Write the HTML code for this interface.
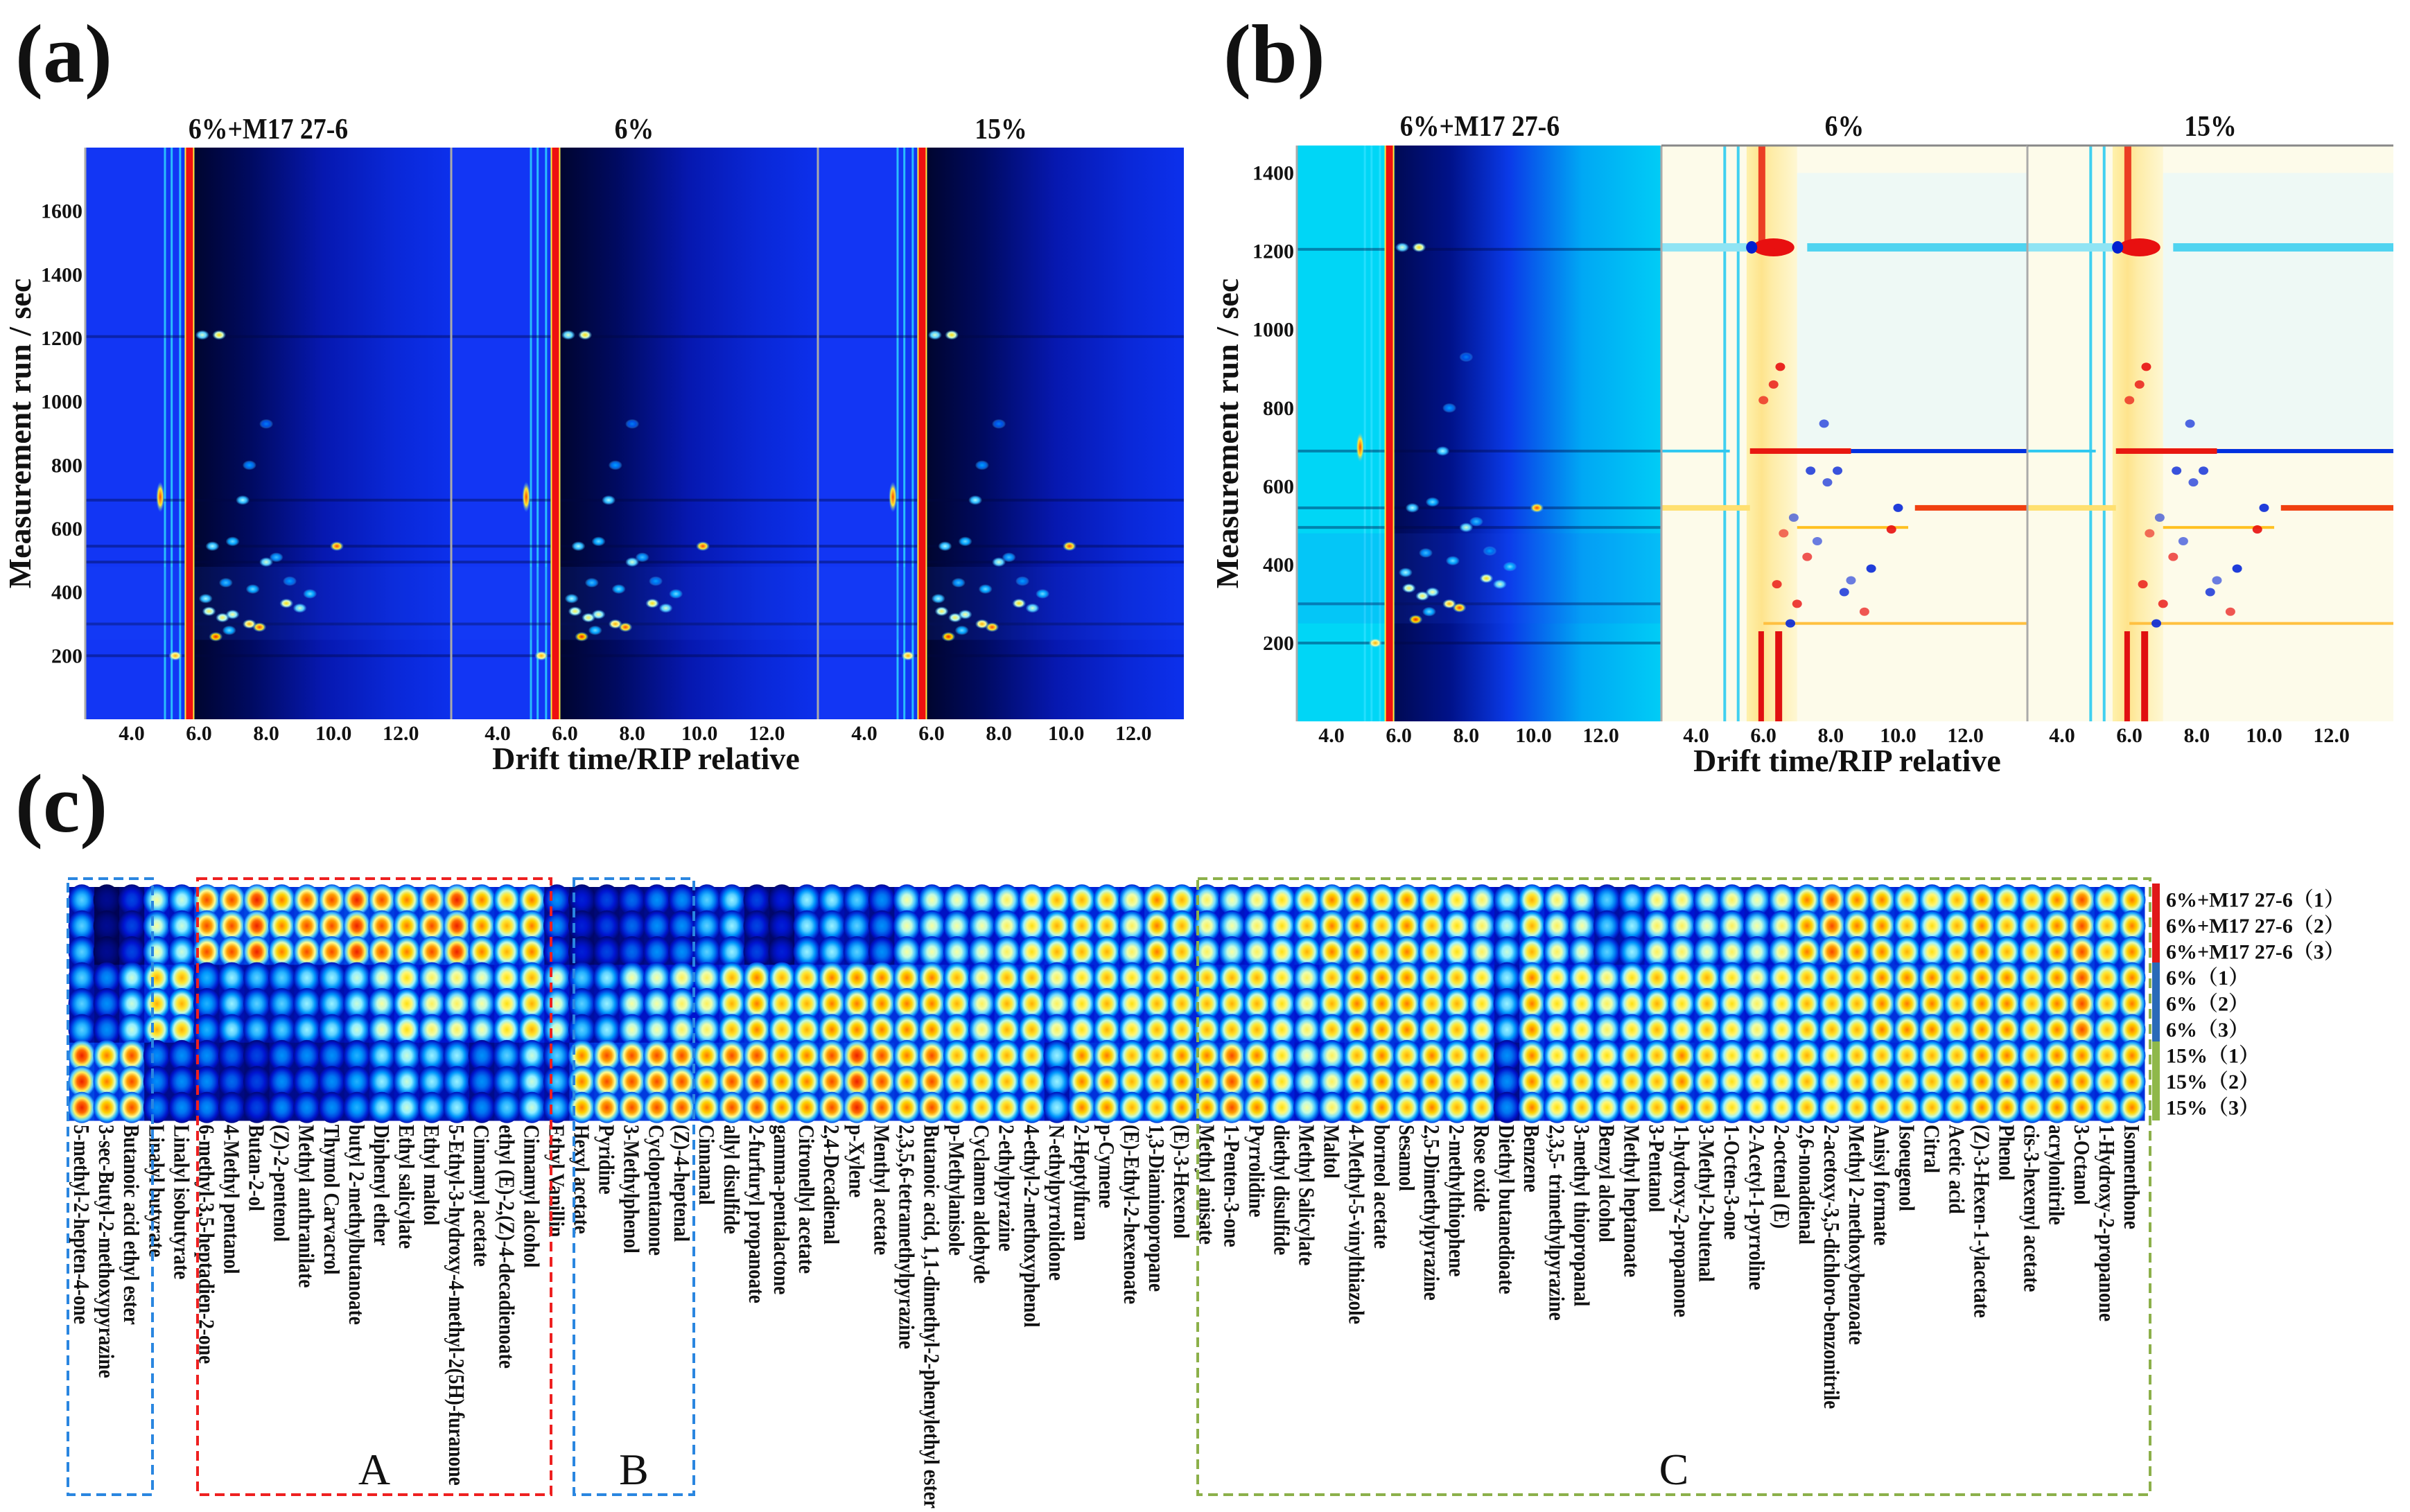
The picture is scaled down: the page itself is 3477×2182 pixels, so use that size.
<!DOCTYPE html>
<html><head><meta charset="utf-8"><title>GC-IMS figure</title>
<style>html,body{margin:0;padding:0;background:#fff;}svg{display:block;}
text{font-family:"Liberation Serif","Noto Serif CJK SC",serif;font-weight:bold;fill:#111;}</style></head>
<body>
<svg id="fig" xmlns="http://www.w3.org/2000/svg" width="3477" height="2182" viewBox="0 0 3477 2182">
<defs id="defs"></defs>
<rect x="0" y="0" width="3477" height="2182" fill="#fff"/>
<g id="pa"></g>
<g id="pb"></g>
<g id="pc"></g>
</svg>
<script>
// ---------- data ----------
const subTitles = ["6%+M17 27-6", "6%", "15%"];
const xTickVals = [4, 6, 8, 10, 12];
const yTicksA = [200, 400, 600, 800, 1000, 1200, 1400, 1600];
const yTicksB = [200, 400, 600, 800, 1000, 1200, 1400];
const peakDrift = [6.1, 6.6, 4.85, 10.1, 8.0, 7.3, 7.5, 7.8, 6.5, 9.0, 8.6, 7.0, 9.3, 5.3, 6.9, 6.3, 6.7, 7.0, 6.4, 6.8, 8.7, 7.5, 8.0, 7.6, 8.3, 6.2];
const peakRT    = [1210, 1210, 700, 545, 495, 690, 300, 290, 260, 350, 365, 330, 395, 200, 280, 340, 320, 560, 545, 430, 435, 800, 930, 410, 510, 380];
const peakVal   = [0.6, 0.75, 0.9, 0.92, 0.6, 0.55, 0.8, 0.92, 0.95, 0.6, 0.75, 0.65, 0.5, 0.8, 0.5, 0.7, 0.7, 0.5, 0.55, 0.45, 0.4, 0.4, 0.35, 0.5, 0.45, 0.55];
const bandRT = [690, 545, 495, 300, 200, 1205];
const diffDrift = [6.2, 6.5, 6.3, 6.0, 6.4, 10.0, 9.8, 8.2, 7.8, 9.2, 8.4, 7.0, 7.4, 7.9, 6.8, 7.3, 8.6, 6.6, 7.6, 9.0, 6.9];
const diffRT    = [1210, 905, 860, 820, 350, 545, 490, 640, 760, 390, 330, 300, 640, 610, 250, 420, 360, 480, 460, 280, 520];
const diffVal   = [1, 0.9, 0.8, 0.7, 0.8, -0.9, 0.9, -0.8, -0.7, -0.9, -0.8, 0.8, -0.8, -0.7, -0.9, 0.7, -0.6, 0.6, -0.6, 0.7, -0.6];

const compounds = ["5-methyl-2-hepten-4-one","3-sec-Butyl-2-methoxypyrazine","Butanoic acid ethyl ester","Linalyl butyrate","Linalyl isobutyrate","6-methyl-3,5-heptadien-2-one","4-Methyl pentanol","Butan-2-ol","(Z)-2-pentenol","Methyl anthranilate","Thymol Carvacrol","butyl 2-methylbutanoate","Diphenyl ether","Ethyl salicylate","Ethyl maltol","5-Ethyl-3-hydroxy-4-methyl-2(5H)-furanone","Cinnamyl acetate","ethyl (E)-2,(Z)-4-decadienoate","Cinnamyl alcohol","Ethyl Vanillin","Hexyl acetate","Pyridine","3-Methylphenol","Cyclopentanone","(Z)-4-heptenal","Cinnamal","allyl disulfide","2-furfuryl propanoate","gamma-pentalactone","Citronellyl acetate","2,4-Decadienal","p-Xylene","Menthyl acetate","2,3,5,6-tetramethylpyrazine","Butanoic acid, 1,1-dimethyl-2-phenylethyl ester","p-Methylanisole","Cyclamen aldehyde","2-ethylpyrazine","4-ethyl-2-methoxyphenol","N-ethylpyrrolidone","2-Heptylfuran","p-Cymene","(E)-Ethyl-2-hexenoate","1,3-Diaminopropane","(E)-3-Hexenol","Methyl anisate","1-Penten-3-one","Pyrrolidine","diethyl disulfide","Methyl Salicylate","Maltol","4-Methyl-5-vinylthiazole","borneol acetate","Sesamol","2,5-Dimethylpyrazine","2-methylthiophene","Rose oxide","Diethyl butanedioate","Benzene","2,3,5- trimethylpyrazine","3-methyl thiopropanal","Benzyl alcohol","Methyl heptanoate","3-Pentanol","1-hydroxy-2-propanone","3-Methyl-2-butenal","1-Octen-3-one","2-Acetyl-1-pyrroline","2-octenal (E)","2,6-nonadienal","2-acetoxy-3,5-dichloro-benzonitrile","Methyl 2-methoxybenzoate","Anisyl formate","Isoeugenol","Citral","Acetic acid","(Z)-3-Hexen-1-ylacetate","Phenol","cis-3-hexenyl acetate","acrylonitrile","3-Octanol","1-Hydroxy-2-propanone","Isomenthone"];
const sampleNames = ["6%+M17 27-6（1）","6%+M17 27-6（2）","6%+M17 27-6（3）","6%（1）","6%（2）","6%（3）","15%（1）","15%（2）","15%（3）"];
const groupM17 = [0.4,0.05,0.2,0.55,0.5,0.8,0.8,0.85,0.75,0.8,0.8,0.85,0.8,0.75,0.8,0.85,0.75,0.7,0.75,0.3,0.15,0.2,0.25,0.3,0.3,0.4,0.45,0.2,0.15,0.45,0.45,0.4,0.3,0.55,0.55,0.55,0.55,0.6,0.65,0.7,0.7,0.7,0.6,0.75,0.7,0.6,0.55,0.6,0.65,0.7,0.75,0.75,0.7,0.75,0.7,0.65,0.6,0.5,0.7,0.6,0.55,0.4,0.45,0.6,0.6,0.55,0.6,0.55,0.6,0.75,0.8,0.75,0.75,0.7,0.65,0.7,0.75,0.7,0.7,0.75,0.8,0.7,0.75];
const group6 =   [0.4,0.3,0.5,0.72,0.7,0.35,0.45,0.4,0.4,0.45,0.45,0.5,0.55,0.65,0.6,0.6,0.55,0.65,0.7,0.55,0.4,0.45,0.55,0.55,0.6,0.6,0.7,0.75,0.7,0.7,0.75,0.75,0.75,0.75,0.75,0.7,0.6,0.7,0.7,0.6,0.65,0.7,0.65,0.7,0.7,0.7,0.7,0.7,0.65,0.6,0.7,0.75,0.75,0.75,0.7,0.7,0.65,0.45,0.75,0.65,0.65,0.6,0.65,0.7,0.65,0.7,0.65,0.6,0.65,0.7,0.7,0.7,0.75,0.75,0.75,0.7,0.75,0.75,0.7,0.75,0.8,0.7,0.75];
const group15 =  [0.85,0.75,0.8,0.3,0.3,0.3,0.25,0.2,0.3,0.3,0.3,0.35,0.45,0.5,0.45,0.45,0.3,0.4,0.5,0.4,0.75,0.8,0.8,0.8,0.8,0.75,0.8,0.8,0.75,0.75,0.8,0.85,0.8,0.75,0.8,0.7,0.7,0.7,0.7,0.45,0.75,0.75,0.7,0.7,0.75,0.75,0.8,0.75,0.65,0.55,0.6,0.7,0.75,0.7,0.75,0.7,0.7,0.3,0.75,0.65,0.7,0.65,0.7,0.7,0.75,0.7,0.65,0.65,0.65,0.7,0.65,0.7,0.7,0.7,0.7,0.7,0.75,0.75,0.7,0.75,0.75,0.7,0.75];

// ---------- helpers ----------
const NS = "http://www.w3.org/2000/svg";
function mk(tag, attrs, parent) { const e = document.createElementNS(NS, tag); for (const k in attrs) e.setAttribute(k, attrs[k]); parent.appendChild(e); return e; }
const defs = document.getElementById("defs");
const stopsC = [[0,[0,0,60]],[0.2,[0,20,210]],[0.4,[0,160,255]],[0.55,[170,250,255]],[0.65,[255,255,150]],[0.76,[255,220,0]],[0.88,[255,90,0]],[1,[225,0,0]]];
function cmap(v) { v = Math.max(0, Math.min(1, v)); for (let i = 1; i < stopsC.length; i++) { if (v <= stopsC[i][0]) { const a = stopsC[i-1], b = stopsC[i]; const t = (v - a[0]) / (b[0] - a[0]); const c = a[1].map((x, j) => Math.round(x + (b[1][j] - x) * t)); return `rgb(${c[0]},${c[1]},${c[2]})`; } } return "rgb(225,0,0)"; }
const boost = v => Math.min(1, 0.06 + v * 1.06);
for (let l = 0; l <= 20; l++) { const v = boost(l / 20); const g = mk("radialGradient", {id: "blob" + l}, defs);
  [[0, 1], [0.35, 0.9], [0.6, 0.72], [0.82, 0.5], [1, 0.3]].forEach(s => mk("stop", {offset: s[0], "stop-color": cmap(v * s[1])}, g)); }
for (let l = 0; l <= 20; l++) { const v = l / 20; const g = mk("radialGradient", {id: "spot" + l}, defs);
  mk("stop", {offset: 0, "stop-color": cmap(v)}, g); mk("stop", {offset: 0.55, "stop-color": cmap(v * 0.8)}, g); mk("stop", {offset: 1, "stop-color": cmap(0.45), "stop-opacity": 0}, g); }
function lin(id, stops) { const g = mk("linearGradient", {id: id, x1: 0, y1: 0, x2: 1, y2: 0}, defs); stops.forEach(s => mk("stop", {offset: s[0], "stop-color": s[1]}, g)); }
lin("bgA", [[0, "#1236f4"], [0.285, "#1236f4"], [0.3, "#000530"], [0.45, "#000a60"], [0.65, "#0618b0"], [0.85, "#0a28d8"], [1, "#0c30ec"]]);
lin("bgB", [[0, "#00d6f6"], [0.25, "#00d6f6"], [0.27, "#000a55"], [0.42, "#00128a"], [0.58, "#0a3ae8"], [0.78, "#00a8f4"], [1, "#00cdf6"]]);
lin("ybandB", [[0, "#ffe97a"], [0.3, "#ffd040"], [0.5, "#ffe070"], [1, "#fff4c0"]]);

// ---------- panel builder ----------
function buildPanel(gid, cfg) {
  const G = document.getElementById(gid);
  const lab = mk("text", {x: cfg.labX, y: cfg.labY, "font-size": 120}, G); lab.textContent = cfg.label;
  
  
  for (let k = 0; k < 3; k++) {
    const x0 = cfg.x0[k], w = cfg.w, top = cfg.top, bot = cfg.bot;
    const px = d => x0 + (d - cfg.dmin) / (cfg.dmax - cfg.dmin) * w;
    const py = t => bot - t / cfg.tmax * (bot - top);
    const sg = mk("g", {}, G);
    
    
    const clip = mk("clipPath", {id: gid + "clip" + k}, defs);
    mk("rect", {x: x0, y: top, width: w, height: bot - top}, clip);
    const inner = mk("g", {"clip-path": `url(#${gid}clip${k})`}, sg);
    const diff = cfg.diff && k > 0;
    mk("rect", {x: x0, y: top, width: w, height: bot - top, fill: diff ? "#fdfbea" : (cfg.diff ? "url(#bgB)" : "url(#bgA)")}, inner);
    if (diff) {
      mk("rect", {x: px(5.5), y: top, width: px(7.0) - px(5.5), height: bot - top, fill: "url(#ybandB)", opacity: 0.55}, inner);
      mk("rect", {x: px(7.0), y: py(1400), width: w, height: py(700) - py(1400), fill: "#e4f8fc", opacity: 0.6}, inner);
      [4.85, 5.25].forEach(d => mk("rect", {x: px(d) - 2, y: top, width: 4, height: bot - top, fill: "#40d0f0"}, inner));
      mk("rect", {x: px(5.85), y: py(230), width: 8, height: bot - py(230), fill: "#e01010"}, inner);
      mk("rect", {x: px(6.35), y: py(230), width: 10, height: bot - py(230), fill: "#e01010"}, inner);
      mk("rect", {x: px(5.85), y: py(1470), width: 10, height: py(1210) - py(1470), fill: "#e82010", opacity: 0.85}, inner);
      mk("rect", {x: px(2.5), y: py(1210) - 6, width: px(5.5) - px(2.5), height: 12, fill: "#90e4f4"}, inner);
      mk("rect", {x: px(7.3), y: py(1210) - 6, width: w, height: 12, fill: "#50d4f0"}, inner);
      mk("ellipse", {cx: px(6.3), cy: py(1210), rx: 30, ry: 13, fill: "#e81010"}, inner);
      mk("ellipse", {cx: px(5.65), cy: py(1210), rx: 8, ry: 9, fill: "#0020d0"}, inner);
      mk("rect", {x: px(8.6), y: py(690) - 3, width: w, height: 6, fill: "#0030e0"}, inner);
      mk("rect", {x: px(2.5), y: py(690) - 2, width: px(5.0) - px(2.5), height: 4, fill: "#30c8f0"}, inner);
      mk("rect", {x: px(5.6), y: py(690) - 4, width: px(8.6) - px(5.6), height: 8, fill: "#e81810"}, inner);
      mk("rect", {x: px(10.5), y: py(545) - 4, width: w, height: 8, fill: "#f04010"}, inner);
      mk("rect", {x: px(2.5), y: py(545) - 4, width: px(5.6) - px(2.5), height: 8, fill: "#ffe070"}, inner);
      mk("rect", {x: px(7.0), y: py(495) - 2, width: px(10.3) - px(7.0), height: 4, fill: "#ffc020"}, inner);
      mk("rect", {x: px(6.0), y: py(250) - 2, width: w, height: 4, fill: "#ffc040"}, inner);
      for (let i = 0; i < diffDrift.length; i++) {
        const v = diffVal[i];
        const e = mk("ellipse", {cx: px(diffDrift[i]), cy: py(diffRT[i]), rx: 7, ry: 6, fill: v > 0 ? "#e81010" : "#0828d8", opacity: Math.abs(v)}, inner);
        
        
      }
    } else {
      [5.0, 5.2, 5.45].forEach(d => mk("rect", {x: px(d) - 2, y: top, width: 3, height: bot - top, fill: "#30e0ff", opacity: 0.8}, inner));
      bandRT.forEach(t => mk("rect", {x: x0, y: py(t) - 2, width: w, height: 4, fill: "#000840", opacity: 0.4}, inner));
      mk("rect", {x: x0, y: py(480), width: w, height: py(250) - py(480), fill: "#2050ff", opacity: 0.12}, inner);
      mk("rect", {x: px(5.72) - 7, y: top, width: 14, height: bot - top, fill: "#ffee40"}, inner);
      mk("rect", {x: px(5.72) - 5, y: top, width: 10, height: bot - top, fill: "#ee1010"}, inner);
      for (let i = 0; i < peakDrift.length; i++) {
        const lv = Math.round(peakVal[i] * 20);
        const e = mk("ellipse", {cx: px(peakDrift[i]), cy: py(peakRT[i]), rx: i === 2 ? 6 : 10, ry: i === 2 ? 22 : 7, fill: `url(#spot${lv})`}, inner);
        
        
      }
    }
    mk("line", {x1: x0, y1: top, x2: x0, y2: bot, stroke: "#aaa", "stroke-width": 3}, sg);
    if (cfg.diff && k > 0) mk("line", {x1: x0, y1: top, x2: x0 + w, y2: top, stroke: "#888", "stroke-width": 3}, sg);
    const tt = mk("text", {x: x0 + w / 2, y: cfg.titleY, "font-size": 42, "text-anchor": "middle", transform: `translate(${(x0 + w / 2) * 0.1},0) scale(0.9,1)`}, sg); tt.textContent = subTitles[k];
    
    
    xTickVals.forEach(v => { const t = mk("text", {x: px(v), y: bot + 30, "font-size": 30, "text-anchor": "middle"}, sg); t.textContent = v.toFixed(1);
      
       });
    if (k === 0) cfg.yTicks.forEach(v => { const t = mk("text", {x: x0 - 4, y: py(v) + 10, "font-size": 30, "text-anchor": "end"}, sg); t.textContent = v;
      
       });
  }
  const xt = mk("text", {x: cfg.xtX, y: cfg.bot + 72, "font-size": 46, "text-anchor": "middle"}, G); xt.textContent = "Drift time/RIP relative";
  
  
  const yt = mk("text", {x: 0, y: 0, "font-size": 46, "text-anchor": "middle", transform: `translate(${cfg.ytX},${(cfg.top + cfg.bot) / 2}) rotate(-90)`}, G); yt.textContent = "Measurement run / sec";
  
  
}
buildPanel("pa", {label: "(a)", labX: 22, labY: 118, x0: [123, 651, 1180], w: 528, top: 213, bot: 1038, dmin: 2.62, dmax: 13.5, tmax: 1800, titleY: 200, yTicks: yTicksA, xtX: 932, ytX: 44, diff: false});
buildPanel("pb", {label: "(b)", labX: 1765, labY: 118, x0: [1871, 2397, 2925], w: 528, top: 210, bot: 1041, dmin: 2.97, dmax: 13.84, tmax: 1470, titleY: 196, yTicks: yTicksB, xtX: 2665, ytX: 1786, diff: true});

// ---------- panel c heatmap ----------
(function () {
  const G = document.getElementById("pc");
  const lab = mk("text", {x: 22, y: 1200, "font-size": 120}, G); lab.textContent = "(c)";
  
  
  const L = 100, R = 3094, T = 1280, B = 1617;
  const nC = compounds.length, nR = sampleNames.length;
  const cx = i => L + (i + 0.5) * (R - L) / nC;
  const cy = r => T + (r + 0.5) * (B - T) / nR;
  const cw = (R - L) / nC, ch = (B - T) / nR;
  const groups = [groupM17, group6, group15];
  for (let i = 0; i < nC; i++) {
    for (let r = 0; r < nR; r++) {
      const v = groups[Math.floor(r / 3)][i];
      const cell = mk("rect", {x: cx(i) - cw / 2, y: cy(r) - ch / 2, width: cw + 0.5, height: ch + 0.5, fill: cmap(boost(v) * 0.28)}, G);
      
      
      const b = mk("ellipse", {cx: cx(i), cy: cy(r), rx: cw * 0.54, ry: ch * 0.6, fill: `url(#blob${Math.round(v * 20)})`}, G);
      
      
    }
    const t = mk("text", {x: 0, y: 0, "font-size": 28, transform: `translate(${cx(i) - 11},${B + 6}) rotate(90) scale(0.98,1.15)`}, G); t.textContent = compounds[i];
    
    
  }
  const barCols = ["#e01818", "#2a6ab8", "#8fb84a"];
  for (let g = 0; g < 3; g++) {
    const bar = mk("rect", {x: 3105, y: T - 5 + g * (B - T + 5) / 3, width: 11, height: (B - T + 5) / 3, fill: barCols[g]}, G);
    
    
  }
  for (let r = 0; r < nR; r++) {
    const t = mk("text", {x: 3125, y: cy(r) + 10, "font-size": 30}, G); t.textContent = sampleNames[r];
    
    
  }
  const boxes = [[98, 220, "#2a86e0", ""], [285, 795, "#ee2020", "A"], [828, 1001, "#2a86e0", "B"], [1728, 3102, "#8cb04a", "C"]];
  boxes.forEach(bx => {
    const r = mk("rect", {x: bx[0], y: 1268, width: bx[1] - bx[0], height: 889, fill: "none", stroke: bx[2], "stroke-width": 4, "stroke-dasharray": "14 8"}, G);
    
    
    if (bx[3]) { const t = mk("text", {x: (bx[0] + bx[1]) / 2, y: 2142, "font-size": 64, "text-anchor": "middle", style: "font-weight:normal"}, G); t.textContent = bx[3];
      
       }
  });
})();
</script>
</body></html>
